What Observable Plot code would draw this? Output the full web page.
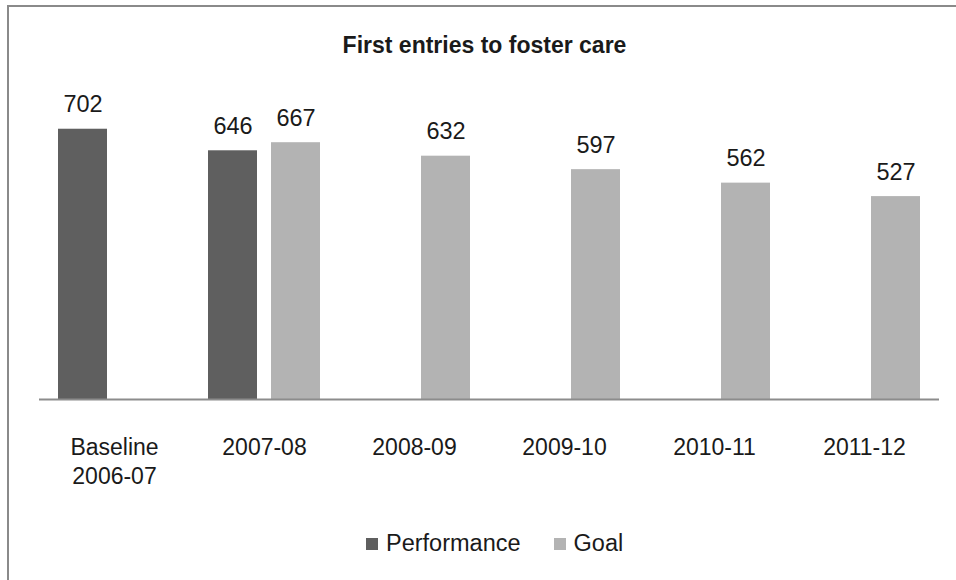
<!DOCTYPE html>
<html>
<head>
<meta charset="utf-8">
<script src="https://cdn.jsdelivr.net/npm/d3@7"></script>
<script src="https://cdn.jsdelivr.net/npm/@observablehq/plot@0.6"></script>
<style>
  html, body { margin: 0; padding: 0; background: #fff; }
  body { width: 956px; height: 580px; overflow: hidden; position: relative; font-family: "Liberation Sans", Arial, sans-serif; color: #1a1a1a; }
  #frame { position: absolute; left: 7px; top: 5px; width: 1000px; height: 700px; border: 2px solid #8a8a8a; box-sizing: border-box; }
  #title { position: absolute; left: 33px; width: 903px; top: 34px; text-align: center; font-weight: bold; font-size: 23px; line-height: 23px; letter-spacing: 0px; }
  #chart { position: absolute; left: 0; top: 70px; }
  #legend { position: absolute; left: 366px; top: 532px; display: flex; align-items: center; font-size: 23.5px; line-height: 23px; white-space: nowrap; }
  #legend .sw { width: 12px; height: 12px; display: inline-block; margin-right: 8px; }
  #legend .item { display: flex; align-items: center; }
  #legend .item + .item { margin-left: 33px; }
</style>
</head>
<body>
<div id="frame"></div>
<div id="title"></div>
<div id="chart"></div>
<div id="legend"></div>
<script>
const titleText = "First entries to foster care";
const categories = ["Baseline\n2006-07", "2007-08", "2008-09", "2009-10", "2010-11", "2011-12"];
const series = ["Performance", "Goal"];
const performance = [702, 646, null, null, null, null];
const goal = [null, 667, 632, 597, 562, 527];
const colors = ["#5f5f5f", "#b3b3b3"];

const rows = [];
categories.forEach((c, i) => {
  if (performance[i] != null) rows.push({category: c, series: "Performance", value: performance[i]});
  if (goal[i] != null) rows.push({category: c, series: "Goal", value: goal[i]});
});

document.getElementById("title").textContent = titleText;

const chart = Plot.plot({
  width: 956,
  height: 429,
  marginTop: 21,
  marginBottom: 100,
  marginLeft: 37,
  marginRight: 16,
  style: {fontFamily: "'Liberation Sans', Arial, sans-serif", fontSize: "23px", color: "#1a1a1a", background: "transparent", overflow: "visible"},
  fx: {domain: categories, padding: 0},
  x: {domain: series, paddingInner: 0.22, paddingOuter: 0.285, axis: null},
  y: {domain: [0, 800], axis: null},
  color: {domain: series, range: colors},
  marks: [
    Plot.barY(rows, {fx: "category", x: "series", y: "value", fill: "series"}),
    Plot.text(rows, {fx: "category", x: "series", y: "value", text: d => String(d.value), dy: -17, lineAnchor: "bottom", fontSize: 23.5, fill: "#1a1a1a"}),
    Plot.ruleY([0], {stroke: "#8c8c8c", strokeWidth: 2}),
    Plot.axisFx({anchor: "bottom", tickSize: 0, tickPadding: 35, label: null, lineHeight: 1.25, fontSize: 23, fill: "#1a1a1a"})
  ]
});
document.getElementById("chart").appendChild(chart);

const legend = document.getElementById("legend");
series.forEach((s, i) => {
  const item = document.createElement("span");
  item.className = "item";
  const sw = document.createElement("span");
  sw.className = "sw";
  sw.style.background = colors[i];
  const label = document.createElement("span");
  label.textContent = s;
  item.appendChild(sw);
  item.appendChild(label);
  legend.appendChild(item);
});
</script>
</body>
</html>
